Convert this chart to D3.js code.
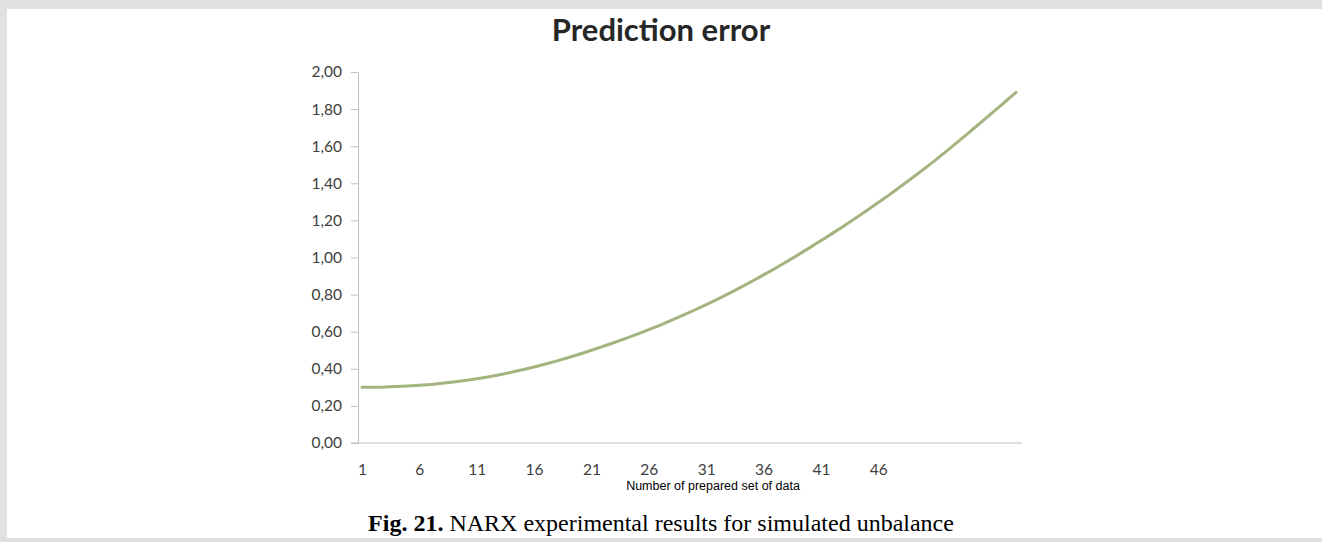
<!DOCTYPE html>
<meta charset="utf-8">
<script src="https://d3js.org/d3.v7.min.js"></script>
<style>
  body { margin: 0; background: #e1e1e1; }
  #chart { position: absolute; left: 7px; top: 9px; width: 1315px; height: 529px; background: #fff; }
</style>
<div id="chart"></div>
<script>
  // prediction error per prepared data set
  var errorValues = [0.300, 0.300, 0.302, 0.304, 0.307, 0.311, 0.316, 0.322, 0.329, 0.337,
    0.346, 0.356, 0.368, 0.381, 0.395, 0.410, 0.426, 0.443, 0.461, 0.480,
    0.500, 0.521, 0.542, 0.564, 0.587, 0.611, 0.636, 0.662, 0.689, 0.717,
    0.746, 0.776, 0.807, 0.839, 0.872, 0.906, 0.941, 0.977, 1.014, 1.052,
    1.091, 1.130, 1.170, 1.211, 1.253, 1.296, 1.340, 1.385, 1.431, 1.478,
    1.526, 1.576, 1.627, 1.679, 1.731, 1.784, 1.837, 1.890];
  var setNumbers = errorValues.map(function (v, i) { return i + 1; });
  var xTickLabels = [1, 6, 11, 16, 21, 26, 31, 36, 41, 46];
  var yTicks = [0, 0.2, 0.4, 0.6, 0.8, 1.0, 1.2, 1.4, 1.6, 1.8, 2.0];

  var width = 1315, height = 529;
  var svg = d3.select("#chart").append("svg")
    .attr("width", width)
    .attr("height", height);

  // page coords minus panel offset (7, 9)
  var x = d3.scaleLinear().domain([1, 58]).range([355, 1009]);
  var y = d3.scaleLinear().domain([0, 2]).range([434, 63]);

  var fmt = function (d) { return d3.format(".2f")(d).replace(".", ","); };

  // y axis
  var yAxis = svg.append("g")
    .attr("transform", "translate(" + (x(1) - 4) + ",0)")
    .call(d3.axisLeft(y).tickValues(yTicks).tickFormat(fmt).tickSize(7).tickPadding(9).tickSizeOuter(0));
  yAxis.select(".domain").attr("stroke", "#bfbfbf");
  yAxis.selectAll(".tick line").attr("stroke", "#bfbfbf");
  yAxis.selectAll("text")
    .style("font-family", "Lato, 'Open Sans', sans-serif")
    .style("font-size", "15.5px")
    .attr("fill", "#404040");

  // x axis
  var xAxis = svg.append("g")
    .attr("transform", "translate(0," + y(0) + ")")
    .call(d3.axisBottom(x).tickValues(xTickLabels).tickFormat(d3.format("d")).tickSize(0).tickPadding(21));
  xAxis.select(".domain").remove();
  xAxis.append("line")
    .attr("x1", x(1) - 11).attr("x2", x(58) + 6)
    .attr("stroke", "#bfbfbf");
  xAxis.selectAll("text")
    .style("font-family", "Lato, 'Open Sans', sans-serif")
    .style("font-size", "15.5px")
    .attr("fill", "#404040");

  // line
  var line = d3.line()
    .x(function (d, i) { return x(setNumbers[i]); })
    .y(function (d) { return y(d); })
    .curve(d3.curveMonotoneX);

  svg.append("path")
    .datum(errorValues)
    .attr("d", line)
    .attr("fill", "none")
    .attr("stroke", "#a3b47e")
    .attr("stroke-width", 3)
    .attr("stroke-linecap", "round");

  // title
  svg.append("text")
    .attr("x", 654).attr("y", 32)
    .attr("text-anchor", "middle")
    .style("font-family", "Lato, sans-serif")
    .style("font-weight", "bold")
    .style("font-size", "31px")
    .attr("fill", "#262626")
    .text("Prediction error");

  // x axis title
  svg.append("text")
    .attr("x", 706).attr("y", 481)
    .attr("text-anchor", "middle")
    .style("font-family", "'Liberation Sans', Arial, sans-serif")
    .style("font-size", "12.5px")
    .attr("fill", "#000")
    .text("Number of prepared set of data");

  // caption
  var cap = svg.append("text")
    .attr("x", 654).attr("y", 522)
    .attr("text-anchor", "middle")
    .style("font-family", "'Liberation Serif', 'Times New Roman', serif")
    .style("font-size", "24px")
    .attr("fill", "#000");
  cap.append("tspan").style("font-weight", "bold").text("Fig. 21.");
  cap.append("tspan").text(" NARX experimental results for simulated unbalance");
</script>
